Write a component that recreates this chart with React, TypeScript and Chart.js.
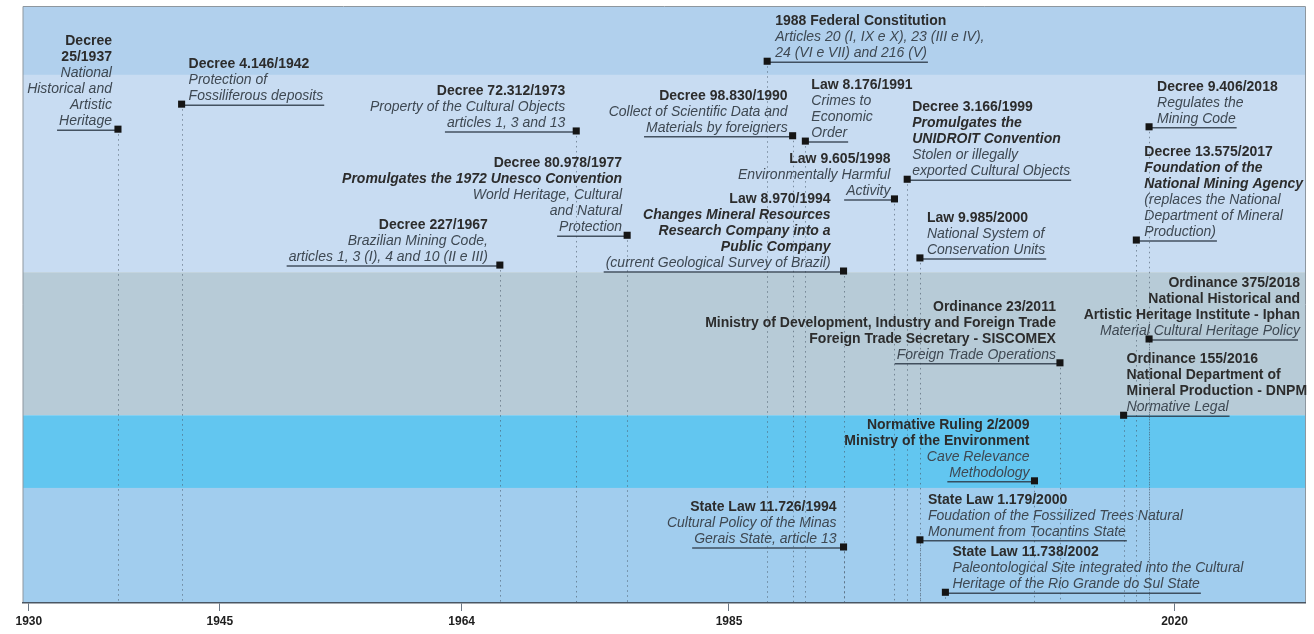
import { useEffect, useRef } from 'react';
import { Chart, registerables } from 'chart.js';

Chart.register(...registerables);

// ---------------- DATA ----------------
const eventYears = [
  1937, 1942, 1967, 1973, 1977, 1988, 1990, 1991, 1994, 1998, 1999,
  2000, 2018, 2017, 2018, 2011, 2016, 2009, 1994, 2000, 2002,
];

// vertical level of each marker (0 = bottom of timeline, 100 = top)
const eventLevels = [
  79.5, 83.7, 56.7, 79.2, 61.7, 90.9, 78.4, 77.5, 55.7, 67.8, 71.1,
  57.9, 79.9, 60.9, 44.3, 40.3, 31.5, 20.5, 9.4, 10.6, 1.8,
];

const eventTitles: string[][] = [
  ['Decree', '25/1937'],
  ['Decree 4.146/1942'],
  ['Decree 227/1967'],
  ['Decree 72.312/1973'],
  ['Decree 80.978/1977'],
  ['1988 Federal Constitution'],
  ['Decree 98.830/1990'],
  ['Law 8.176/1991'],
  ['Law 8.970/1994'],
  ['Law 9.605/1998'],
  ['Decree 3.166/1999'],
  ['Law 9.985/2000'],
  ['Decree 9.406/2018'],
  ['Decree 13.575/2017'],
  ['Ordinance 375/2018', 'National Historical and', 'Artistic Heritage Institute - Iphan'],
  ['Ordinance 23/2011', 'Ministry of Development, Industry and Foreign Trade', 'Foreign Trade Secretary - SISCOMEX'],
  ['Ordinance 155/2016', 'National Department of', 'Mineral Production - DNPM'],
  ['Normative Ruling 2/2009', 'Ministry of the Environment'],
  ['State Law 11.726/1994'],
  ['State Law 1.179/2000'],
  ['State Law 11.738/2002'],
];

const eventHighlights: string[][] = [
  [], [], [], [],
  ['Promulgates the 1972 Unesco Convention'],
  [], [], [],
  ['Changes Mineral Resources', 'Research Company into a', 'Public Company'],
  [],
  ['Promulgates the', 'UNIDROIT Convention'],
  [], [],
  ['Foundation of the', 'National Mining Agency'],
  [], [], [], [], [], [], [],
];

const eventNotes: string[][] = [
  ['National', 'Historical and', 'Artistic', 'Heritage'],
  ['Protection of', 'Fossiliferous deposits'],
  ['Brazilian Mining Code,', 'articles 1, 3 (I), 4 and 10 (II e III)'],
  ['Property of the Cultural Objects', 'articles 1, 3 and 13'],
  ['World Heritage, Cultural', 'and Natural', 'Protection'],
  ['Articles 20 (I, IX e X), 23 (III e IV),', '24 (VI e VII) and 216 (V)'],
  ['Collect of Scientific Data and', 'Materials by foreigners'],
  ['Crimes to', 'Economic', 'Order'],
  ['(current Geological Survey of Brazil)'],
  ['Environmentally Harmful', 'Activity'],
  ['Stolen or illegally', 'exported Cultural Objects'],
  ['National System of', 'Conservation Units'],
  ['Regulates the', 'Mining Code'],
  ['(replaces the National', 'Department of Mineral', 'Production)'],
  ['Material Cultural Heritage Policy'],
  ['Foreign Trade Operations'],
  ['Normative Legal'],
  ['Cave Relevance', 'Methodology'],
  ['Cultural Policy of the Minas', 'Gerais State, article 13'],
  ['Foudation of the Fossilized Trees Natural', 'Monument from Tocantins State'],
  ['Paleontological Site integrated into the Cultural', 'Heritage of the Rio Grande do Sul State'],
];

const tickYears = [1930, 1945, 1964, 1985, 2020];

const bandTops = [100, 88.6, 55.5, 31.5, 19.3];
const bandBottoms = [88.6, 55.5, 31.5, 19.3, 0];

// ---------------- LAYOUT / STYLE ----------------
const bandColors = ['#b1d0ed', '#c8dcf2', '#b7cbd7', '#62c6f0', '#a1cdee'];
// L = text left of marker, R = text right of marker, E = text right-aligned at plot edge
const labelSide = ['L', 'R', 'L', 'L', 'L', 'R', 'L', 'R', 'L', 'L', 'R', 'R', 'R', 'R', 'E', 'L', 'R', 'L', 'L', 'R', 'R'];
const labelDx = [-6, 7, -12, -11, -5, 8, -5, 6, -13, -4, 5, 7, 8, 8, 0, -4, 3, -5, -7, 8, 7];

const FONT = '"Liberation Sans", Arial, Helvetica, sans-serif';
const LINE_H = 16;

function labelLines(i: number) {
  return [
    ...eventTitles[i].map((t) => ({ t, font: `bold 14px ${FONT}`, color: '#2c2c2c' })),
    ...eventHighlights[i].map((t) => ({ t, font: `italic bold 14px ${FONT}`, color: '#2c2c2c' })),
    ...eventNotes[i].map((t) => ({ t, font: `italic 14px ${FONT}`, color: '#3e4852' })),
  ];
}

function anchorFor(i: number, px: number, chart: any) {
  const side = labelSide[i];
  if (side === 'E') return { x: chart.chartArea.right - 5, align: 'right' as CanvasTextAlign };
  if (side === 'L') return { x: px + labelDx[i], align: 'right' as CanvasTextAlign };
  return { x: px + labelDx[i], align: 'left' as CanvasTextAlign };
}

const timelinePlugin = {
  id: 'timelineDecor',
  beforeDraw(chart: any) {
    const { ctx, chartArea } = chart;
    const ys = chart.scales.y;
    ctx.save();
    bandTops.forEach((top, i) => {
      const yt = ys.getPixelForValue(top);
      const yb = ys.getPixelForValue(bandBottoms[i]);
      ctx.fillStyle = bandColors[i];
      ctx.fillRect(chartArea.left, yt, chartArea.right - chartArea.left, yb - yt);
    });
    ctx.strokeStyle = '#8e979f';
    ctx.lineWidth = 1;
    ctx.beginPath();
    ctx.moveTo(chartArea.left, chartArea.bottom);
    ctx.lineTo(chartArea.left, chartArea.top - 0.5);
    ctx.lineTo(chartArea.right + 0.5, chartArea.top - 0.5);
    ctx.lineTo(chartArea.right + 0.5, chartArea.bottom);
    ctx.stroke();
    ctx.restore();
  },
  beforeDatasetsDraw(chart: any) {
    const { ctx, chartArea } = chart;
    const xs = chart.scales.x;
    const ys = chart.scales.y;
    ctx.save();
    // dotted drop lines
    ctx.strokeStyle = 'rgba(70,85,100,0.6)';
    ctx.lineWidth = 1;
    ctx.setLineDash([1.5, 3.5]);
    eventYears.forEach((yr, i) => {
      const px = Math.round(xs.getPixelForValue(yr)) + 0.5;
      const py = ys.getPixelForValue(eventLevels[i]);
      ctx.beginPath();
      ctx.moveTo(px, py + 5);
      ctx.lineTo(px, chartArea.bottom - 1);
      ctx.stroke();
    });
    ctx.setLineDash([]);
    // underlines
    ctx.strokeStyle = 'rgba(45,58,72,0.85)';
    ctx.lineWidth = 1.5;
    eventYears.forEach((yr, i) => {
      const px = xs.getPixelForValue(yr);
      const py = ys.getPixelForValue(eventLevels[i]);
      const lines = labelLines(i);
      const last = lines[lines.length - 1];
      ctx.font = last.font;
      const w = ctx.measureText(last.t).width;
      const a = anchorFor(i, px, chart);
      let x1: number;
      let x2: number;
      if (labelSide[i] === 'L') {
        x1 = a.x - w - 2;
        x2 = px;
      } else if (labelSide[i] === 'R') {
        x1 = px;
        x2 = a.x + w + 1;
      } else {
        x1 = px;
        x2 = a.x - 2;
      }
      ctx.beginPath();
      ctx.moveTo(x1, py + 1);
      ctx.lineTo(x2, py + 1);
      ctx.stroke();
    });
    ctx.restore();
  },
  afterDatasetsDraw(chart: any) {
    const { ctx } = chart;
    const xs = chart.scales.x;
    const ys = chart.scales.y;
    ctx.save();
    ctx.textBaseline = 'alphabetic';
    eventYears.forEach((yr, i) => {
      const px = xs.getPixelForValue(yr);
      const py = ys.getPixelForValue(eventLevels[i]);
      const lines = labelLines(i);
      const a = anchorFor(i, px, chart);
      ctx.textAlign = a.align;
      const n = lines.length;
      lines.forEach((ln, k) => {
        ctx.font = ln.font;
        ctx.fillStyle = ln.color;
        ctx.fillText(ln.t, a.x, py - 4 - (n - 1 - k) * LINE_H);
      });
    });
    ctx.restore();
  },
};

export default function App() {
  const canvasRef = useRef<HTMLCanvasElement | null>(null);

  useEffect(() => {
    document.body.style.margin = '0';
    const canvas = canvasRef.current;
    if (!canvas) return;
    const chart = new Chart(canvas, {
      type: 'scatter',
      data: {
        datasets: [
          {
            data: eventYears.map((yr, i) => ({ x: yr, y: eventLevels[i] })),
            pointStyle: 'rect',
            pointRadius: 5,
            pointBorderWidth: 0,
            pointBackgroundColor: '#151515',
            pointBorderColor: '#151515',
          },
        ],
      },
      options: {
        responsive: false,
        animation: false,
        events: [],
        layout: { padding: { left: 23, right: 9, top: 7, bottom: 0 } },
        plugins: { legend: { display: false }, tooltip: { enabled: false } },
        scales: {
          x: {
            type: 'linear',
            min: 1929.54,
            max: 2030.25,
            afterBuildTicks: (scale: any) => {
              scale.ticks = tickYears.map((v) => ({ value: v }));
            },
            afterFit: (scale: any) => {
              scale.height = 31;
            },
            ticks: {
              autoSkip: false,
              maxRotation: 0,
              padding: 3,
              color: '#1e1e1e',
              font: { family: FONT, size: 12, weight: 'bold' },
              callback: (v: any) => String(v),
            },
            grid: {
              drawOnChartArea: false,
              drawTicks: true,
              tickLength: 8,
              color: '#6b7785',
            },
            border: { display: true, color: '#4a5663', width: 1.5 },
          },
          y: {
            type: 'linear',
            min: 0,
            max: 100,
            display: false,
          },
        },
      },
      plugins: [timelinePlugin],
    });
    return () => chart.destroy();
  }, []);

  return <canvas ref={canvasRef} width={1314} height={634} style={{ display: 'block' }} />;
}
